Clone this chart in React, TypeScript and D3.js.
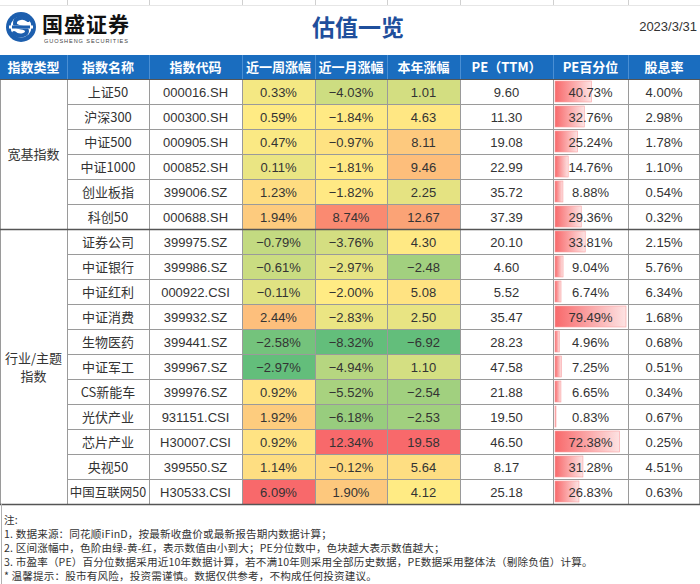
import React from "react";
import * as d3 from "d3";

const headers = ["指数类型", "指数名称", "指数代码", "近一周涨幅", "近一月涨幅", "本年涨幅", "PE（TTM）", "PE百分位", "股息率"];
const groupNames = [["宽基指数"], ["行业/主题", "指数"]];
const groupSizes = [6, 11];
const names = ["上证50", "沪深300", "中证500", "中证1000", "创业板指", "科创50", "证券公司", "中证银行", "中证红利", "中证消费", "生物医药", "中证军工", "CS新能车", "光伏产业", "芯片产业", "央视50", "中国互联网50"];
const codes = ["000016.SH", "000300.SH", "000905.SH", "000852.SH", "399006.SZ", "000688.SH", "399975.SZ", "399986.SZ", "000922.CSI", "399932.SZ", "399441.SZ", "399967.SZ", "399976.SZ", "931151.CSI", "H30007.CSI", "399550.SZ", "H30533.CSI"];
const week = [0.33, 0.59, 0.47, 0.11, 1.23, 1.94, -0.79, -0.61, -0.11, 2.44, -2.58, -2.97, 0.92, 1.92, 0.92, 1.14, 6.09];
const month = [-4.03, -1.84, -0.97, -1.81, -1.82, 8.74, -3.76, -2.97, -2.0, -2.83, -8.32, -4.94, -5.52, -6.18, 12.34, -0.12, 1.9];
const ytd = [1.01, 4.63, 8.11, 9.46, 2.25, 12.67, 4.3, -2.48, 5.08, 2.5, -6.92, 1.1, -2.54, -2.53, 19.58, 5.64, 4.12];
const pe = [9.6, 11.3, 19.08, 22.99, 35.72, 37.39, 20.1, 4.6, 5.52, 35.47, 28.23, 47.58, 21.88, 19.5, 46.5, 8.17, 25.18];
const pePct = [40.73, 32.76, 25.24, 14.76, 8.88, 29.36, 33.81, 9.04, 6.74, 79.49, 4.96, 7.25, 6.65, 0.83, 72.38, 31.28, 26.83];
const divYield = [4.0, 2.98, 1.78, 1.1, 0.54, 0.32, 2.15, 5.76, 6.34, 1.68, 0.68, 0.51, 0.34, 0.67, 0.25, 4.51, 0.63];
const notes = [
  "注:",
  "1. 数据来源：同花顺iFinD，按最新收盘价或最新报告期内数据计算；",
  "2. 区间涨幅中，色阶由绿-黄-红，表示数值由小到大；PE分位数中，色块越大表示数值越大；",
  "3. 市盈率（PE）百分位数据采用近10年数据计算，若不满10年则采用全部历史数据，PE数据采用整体法（剔除负值）计算。",
  "* 温馨提示：股市有风险，投资需谨慎。数据仅供参考，不构成任何投资建议。",
];

const W = 700;
const H = 584;
const colEdges = [0, 67, 149, 242, 315, 387, 460, 553, 628, 700];
const headTop = 55;
const headBottom = 79;
const rowH = 25;
const FONT = "'Liberation Sans', Arial, 'Noto Sans CJK SC', sans-serif";
const TXT = "#333333";

function colorScale(vals: number[]) {
  const sorted = [...vals].sort((a, b) => a - b);
  const med = d3.median(sorted) as number;
  return d3
    .scaleLinear<string>()
    .domain([sorted[0], med, sorted[sorted.length - 1]])
    .range(["#63BE7B", "#FFEB84", "#F8696B"])
    .interpolate(d3.interpolateRgb);
}

export default function App() {
  const n = names.length;
  const y = d3.scaleLinear().domain([0, n]).range([headBottom, headBottom + n * rowH]);
  const cx = (i: number) => (colEdges[i] + colEdges[i + 1]) / 2;
  const cw = (i: number) => colEdges[i + 1] - colEdges[i];
  const weekC = colorScale(week);
  const monthC = colorScale(month);
  const ytdC = colorScale(ytd);
  const barX = d3.scaleLinear().domain([0, d3.max(pePct) as number]).range([0, cw(7) - 4]);
  const tableBottom = y(n);

  const groupStarts: number[] = [];
  let acc = 0;
  groupSizes.forEach((s) => {
    groupStarts.push(acc);
    acc += s;
  });

  const colored: [number[], (v: number) => string, number, (v: number) => string][] = [
    [week, weekC, 3, (v) => `${v < 0 ? "\u2212" : ""}${Math.abs(v).toFixed(2)}%`],
    [month, monthC, 4, (v) => `${v < 0 ? "\u2212" : ""}${Math.abs(v).toFixed(2)}%`],
    [ytd, ytdC, 5, (v) => `${v < 0 ? "\u2212" : ""}${Math.abs(v).toFixed(2)}`],
  ];

  return (
    <svg width={W} height={H} style={{ position: "absolute", left: 0, top: 0, background: "#fff" }} fontFamily={FONT}>
      <defs>
        <linearGradient id="barGrad" x1="0" x2="1" y1="0" y2="0">
          <stop offset="0%" stopColor="#F8696B" />
          <stop offset="100%" stopColor="#FDE3E3" />
        </linearGradient>
      </defs>
      <rect x={0} y={0} width={W} height={H} fill="#fff" />
      {/* faint excel gridlines at top */}
      {colEdges.slice(1, -1).map((x, i) => (
        <line key={"tg" + i} x1={x + 0.5} x2={x + 0.5} y1={0} y2={5} stroke="#d0d0d0" />
      ))}
      <line x1={0} x2={W} y1={5.5} y2={5.5} stroke="#e6e6e6" />

      {/* logo */}
      <g>
        <circle cx={21} cy={27} r={15} fill="#1d5fae" />
        <circle cx={21} cy={27} r={10.5} fill="#fff" />
        <path d="M28,20 C23,16 14,18 15,24 C16,29 27,26 27,31 C27,36 18,37 14,33" fill="none" stroke="#1d5fae" strokeWidth={4} strokeLinecap="round" />
        <rect x={9} y={25.5} width={24} height={3} fill="#fff" />
        <rect x={12} y={25.5} width={18} height={3} fill="#1d5fae" />
        <text x={42} y={31.5} fontSize={21} fontWeight={700} fill="#111" fontFamily="'Noto Sans CJK SC', sans-serif" letterSpacing={1}>国盛证券</text>
        <text x={44} y={42.5} fontSize={5.6} fill="#444" letterSpacing={0.9}>GUOSHENG SECURITIES</text>
      </g>
      <text x={358} y={36} textAnchor="middle" fontSize={23} fontWeight={700} fill="#1f4f9c" fontFamily="'Noto Sans CJK SC', sans-serif">估值一览</text>
      <text x={697} y={31} textAnchor="end" fontSize={13} fill={TXT}>2023/3/31</text>

      {/* header */}
      <rect x={0} y={headTop} width={W} height={headBottom - headTop} fill="#1a6dbf" />
      {colEdges.slice(1, -1).map((x, i) => (
        <line key={"hs" + i} x1={x + 0.5} x2={x + 0.5} y1={headTop} y2={headBottom} stroke="#4a8fd4" />
      ))}
      {headers.map((h, i) => (
        <text key={"h" + i} x={cx(i)} y={(headTop + headBottom) / 2 + 4.5} textAnchor="middle" fontSize={13} fontWeight={700} fill="#fff" fontFamily="'Noto Sans CJK SC', sans-serif">
          {h}
        </text>
      ))}

      {/* colored cells */}
      {colored.map(([vals, sc, ci]) =>
        vals.map((v, r) => (
          <rect key={`c${ci}-${r}`} x={colEdges[ci]} y={y(r)} width={cw(ci)} height={rowH} fill={sc(v)} />
        ))
      )}

      {/* data bars */}
      {pePct.map((v, r) => (
        <rect key={"b" + r} x={colEdges[7] + 2} y={y(r) + 2} width={Math.max(1, barX(v))} height={rowH - 4} fill="url(#barGrad)" stroke="#F8A0A2" strokeWidth={0.6} />
      ))}

      {/* grid lines */}
      {d3.range(n + 1).map((r) => (
        <line key={"rl" + r} x1={colEdges[1]} x2={W} y1={y(r) + 0.5} y2={y(r) + 0.5} stroke="#9a9a9a" strokeWidth={1} />
      ))}
      {colEdges.map((x, i) => (
        <line key={"vl" + i} x1={Math.min(x + 0.5, W - 0.5)} x2={Math.min(x + 0.5, W - 0.5)} y1={headBottom} y2={tableBottom} stroke="#9a9a9a" strokeWidth={1} />
      ))}
      {groupStarts.map((s, g) => (
        <line key={"gl" + g} x1={0} x2={W} y1={y(s) + 0.5} y2={y(s) + 0.5} stroke="#555" strokeWidth={g === 0 ? 1 : 1.3} />
      ))}
      <line x1={0} x2={W} y1={tableBottom + 0.5} y2={tableBottom + 0.5} stroke="#555" strokeWidth={1.3} />
      <line x1={1.5} x2={1.5} y1={tableBottom} y2={H} stroke="#b0b0b0" strokeWidth={1} />

      {/* group labels */}
      {groupNames.map((lines, g) => {
        const mid = (y(groupStarts[g]) + y(groupStarts[g] + groupSizes[g])) / 2;
        return lines.map((l, k) => (
          <text key={`g${g}-${k}`} x={cx(0)} y={mid + 5 + (k - (lines.length - 1) / 2) * 18} textAnchor="middle" fontSize={13} fill={TXT} fontFamily="'Noto Sans CJK SC', sans-serif">
            {l}
          </text>
        ));
      })}

      {/* text cells */}
      {names.map((nm, r) => {
        const ty = y(r) + rowH / 2 + 5;
        return (
          <g key={"r" + r} fontSize={13} fill={TXT}>
            <text x={cx(1)} y={ty} textAnchor="middle" fontFamily="'Noto Sans CJK SC', sans-serif" fontSize={nm.length > 6 ? 12.5 : 13}>{nm}</text>
            <text x={cx(2)} y={ty} textAnchor="middle">{codes[r]}</text>
            {colored.map(([vals, , ci, fmt]) => (
              <text key={"t" + ci} x={cx(ci)} y={ty} textAnchor="middle">{fmt(vals[r])}</text>
            ))}
            <text x={cx(6)} y={ty} textAnchor="middle">{pe[r].toFixed(2)}</text>
            <text x={cx(7)} y={ty} textAnchor="middle">{pePct[r].toFixed(2)}%</text>
            <text x={cx(8)} y={ty} textAnchor="middle">{divYield[r].toFixed(2)}%</text>
          </g>
        );
      })}

      {/* notes */}
      {notes.map((t, i) => (
        <text key={"n" + i} x={4} y={524 + i * 14} fontSize={10.6} fill={TXT} fontFamily="'Noto Sans CJK SC', sans-serif" letterSpacing={0.15}>
          {t}
        </text>
      ))}
    </svg>
  );
}
